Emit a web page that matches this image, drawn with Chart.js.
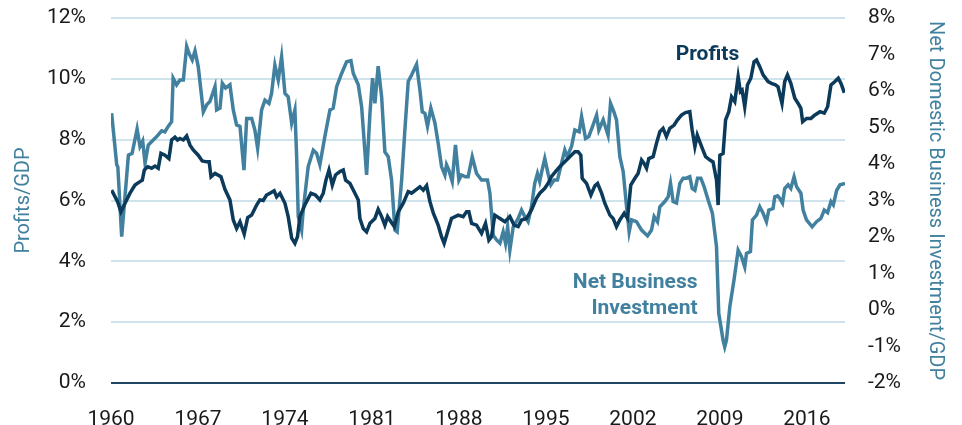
<!DOCTYPE html>
<html>
<head>
<meta charset="utf-8">
<script src="https://cdn.jsdelivr.net/npm/chart.js@4.4.1/dist/chart.umd.min.js"></script>
<style>
  html, body { margin: 0; padding: 0; background: #fff; }
</style>
</head>
<body>
<canvas id="chart" width="962" height="425"></canvas>
<script>
// quarterly-ish readings, year as decimal
const profitYears = [1960.05,1960.53,1960.8,1961.13,1961.53,1961.93,1962.33,1962.52,1962.68,1962.95,1963.27,1963.54,1963.8,1964.02,1964.34,1964.66,1964.88,1965.15,1965.35,1965.55,1965.82,1966.09,1966.36,1966.62,1967.02,1967.34,1967.7,1967.9,1968.05,1968.37,1968.85,1969.17,1969.57,1969.84,1970.11,1970.38,1970.72,1971.0,1971.32,1971.72,1971.98,1972.25,1972.52,1972.79,1973.13,1973.33,1973.6,1974.0,1974.26,1974.54,1974.8,1975.01,1975.2,1975.6,1976.09,1976.45,1976.81,1977.08,1977.3,1977.54,1977.81,1978.07,1978.42,1978.69,1978.88,1979.23,1979.63,1979.9,1980.03,1980.3,1980.57,1980.84,1981.24,1981.5,1981.78,1982.04,1982.26,1982.53,1982.8,1983.12,1983.52,1983.92,1984.19,1984.51,1984.86,1985.13,1985.4,1985.67,1985.94,1986.33,1986.6,1986.81,1987.13,1987.4,1987.94,1988.34,1988.61,1988.8,1989.02,1989.42,1989.82,1990.14,1990.41,1990.62,1990.89,1991.3,1991.7,1992.1,1992.44,1992.77,1993.04,1993.44,1993.84,1994.24,1994.51,1994.91,1995.17,1995.44,1995.77,1996.11,1996.52,1996.92,1997.33,1997.59,1997.81,1997.92,1998.27,1998.62,1998.94,1999.16,1999.48,1999.74,2000.15,2000.41,2000.68,2000.95,2001.3,2001.57,2001.83,2002.16,2002.42,2002.7,2002.9,2003.1,2003.28,2003.63,2003.9,2004.17,2004.43,2004.7,2004.97,2005.32,2005.59,2005.91,2006.23,2006.58,2006.77,2006.99,2007.18,2007.53,2007.85,2008.2,2008.45,2008.73,2008.86,2009.0,2009.26,2009.46,2009.72,2009.94,2010.2,2010.47,2010.65,2010.79,2011.0,2011.22,2011.49,2011.75,2011.95,2012.21,2012.48,2012.88,2013.15,2013.47,2013.68,2014.0,2014.22,2014.44,2014.71,2015.03,2015.3,2015.52,2015.66,2015.98,2016.33,2016.65,2017.06,2017.4,2017.67,2017.94,2018.26,2018.53,2018.75,2019.02];
const profitValues = [6.34,5.96,5.63,5.91,6.24,6.51,6.62,6.67,7.0,7.11,7.06,7.13,7.06,7.55,7.49,7.38,7.99,8.08,7.99,8.04,7.99,8.12,7.82,7.66,7.49,7.30,7.27,7.27,6.78,6.89,6.78,6.37,6.02,5.36,5.08,5.30,4.90,5.44,5.52,5.85,6.02,6.0,6.18,6.24,6.32,6.12,6.24,5.91,5.47,4.76,4.59,4.81,5.47,5.85,6.24,6.18,6.02,6.24,6.67,7.0,6.51,6.84,6.95,7.0,6.67,6.56,6.24,6.02,5.41,5.08,4.97,5.25,5.41,5.71,5.47,5.19,5.47,5.30,5.14,5.63,5.91,6.29,6.24,6.34,6.45,6.34,6.49,5.96,5.58,5.19,4.81,4.59,5.03,5.41,5.52,5.47,5.63,5.63,5.25,5.19,4.92,5.25,4.70,4.81,5.52,5.41,5.30,5.47,5.19,5.14,5.36,5.41,5.69,6.07,6.24,6.40,6.56,6.78,6.95,7.11,7.27,7.44,7.60,7.60,7.49,6.73,6.56,6.18,6.48,6.56,6.24,5.91,5.52,5.41,5.14,5.36,5.58,5.41,6.51,6.73,6.89,7.33,7.22,7.06,7.38,7.44,7.88,8.26,8.37,8.10,8.37,8.48,8.65,8.81,8.89,8.92,8.32,7.77,8.15,7.77,7.44,7.33,7.27,6.67,5.85,7.49,7.55,8.65,8.92,9.41,9.25,10.07,9.58,9.63,9.08,9.80,10.02,10.56,10.62,10.40,10.13,9.91,9.85,9.80,9.74,9.19,9.91,10.13,9.85,9.36,9.19,9.03,8.59,8.70,8.70,8.81,8.92,8.87,9.08,9.80,9.91,10.02,9.85,9.54];

const investYears = [1960.05,1960.46,1960.55,1960.86,1961.4,1961.7,1962.1,1962.33,1962.55,1962.74,1963.0,1963.4,1963.68,1964.08,1964.34,1964.6,1964.88,1965.0,1965.28,1965.55,1965.82,1966.09,1966.28,1966.54,1966.76,1967.02,1967.43,1967.7,1967.96,1968.37,1968.5,1968.77,1968.96,1969.22,1969.57,1969.84,1970.11,1970.38,1970.7,1970.92,1971.32,1971.58,1971.8,1972.12,1972.39,1972.71,1972.92,1973.19,1973.46,1973.73,1974.0,1974.26,1974.54,1974.8,1974.94,1975.07,1975.34,1975.47,1975.87,1976.28,1976.55,1976.81,1977.21,1977.62,1977.88,1978.16,1978.56,1978.96,1979.31,1979.5,1979.9,1980.17,1980.57,1980.84,1981.05,1981.24,1981.5,1981.78,1982.04,1982.31,1982.58,1982.85,1983.03,1983.39,1983.65,1983.92,1984.19,1984.59,1984.86,1985.05,1985.26,1985.47,1985.74,1986.07,1986.33,1986.6,1986.87,1987.0,1987.19,1987.46,1987.72,1988.0,1988.2,1988.53,1988.74,1989.07,1989.42,1989.82,1990.3,1990.49,1990.76,1991.03,1991.3,1991.56,1991.75,1991.92,1992.1,1992.37,1992.77,1993.04,1993.3,1993.57,1993.84,1994.1,1994.32,1994.5,1994.69,1994.91,1995.17,1995.4,1995.66,1995.93,1996.26,1996.52,1996.71,1997.06,1997.33,1997.68,1997.87,1998.19,1998.45,1998.8,1999.08,1999.26,1999.61,2000.0,2000.2,2000.47,2000.68,2000.95,2001.22,2001.49,2001.7,2001.89,2002.29,2002.7,2003.18,2003.5,2003.71,2003.98,2004.17,2004.57,2004.84,2005.03,2005.24,2005.51,2005.78,2006.04,2006.3,2006.58,2006.77,2006.99,2007.2,2007.47,2007.73,2008.05,2008.4,2008.73,2008.91,2009.26,2009.39,2009.53,2009.8,2010.14,2010.47,2010.74,2011.0,2011.14,2011.46,2011.62,2011.95,2012.21,2012.48,2012.75,2012.94,2013.28,2013.42,2013.64,2013.82,2014.04,2014.22,2014.49,2014.71,2014.97,2015.17,2015.52,2015.7,2015.97,2016.43,2016.78,2017.13,2017.4,2017.67,2017.94,2018.13,2018.4,2018.67,2019.07];
const investValues = [5.39,3.98,3.92,2.01,4.24,4.29,4.96,4.48,4.63,4.02,4.52,4.66,4.75,4.91,4.88,5.03,5.16,6.35,6.17,6.30,6.30,7.22,7.03,6.85,7.10,6.67,5.43,5.62,5.71,6.12,5.48,5.53,6.21,6.08,6.17,5.48,5.07,5.03,3.83,5.25,5.25,4.93,4.43,5.48,5.75,5.66,5.93,6.71,6.30,6.94,5.93,5.84,5.12,5.48,4.20,2.56,2.19,2.74,3.93,4.38,4.29,3.98,4.75,5.48,5.53,6.12,6.48,6.80,6.83,6.48,6.17,5.57,3.70,5.39,6.35,5.66,6.68,5.84,4.33,4.20,3.56,2.19,2.14,3.56,4.93,6.26,6.44,6.73,6.03,5.43,5.39,5.03,5.53,5.12,4.57,3.93,3.70,3.98,3.83,3.52,4.52,3.56,3.70,3.65,3.65,4.20,3.74,3.56,3.56,3.20,2.05,1.92,1.83,2.14,1.83,2.28,1.64,2.28,2.51,2.74,2.56,2.42,2.83,3.47,3.74,3.52,3.83,4.15,3.74,3.43,3.56,3.56,4.02,4.38,4.20,4.48,4.93,4.88,5.30,4.70,4.75,5.07,5.34,4.93,5.21,4.79,5.66,5.43,5.21,4.20,3.79,2.83,2.14,2.47,2.42,2.19,2.03,2.19,2.56,2.42,2.83,2.97,3.10,3.47,2.97,2.93,3.47,3.61,3.61,3.65,3.33,3.28,3.61,3.61,3.38,3.02,2.65,1.73,-0.09,-0.83,-1.01,-0.83,0.09,0.83,1.64,1.46,1.18,1.55,1.60,2.47,2.60,2.83,2.65,2.42,2.74,2.78,3.10,3.13,3.06,2.93,3.33,3.43,3.33,3.65,3.38,3.20,2.74,2.47,2.28,2.42,2.51,2.74,2.67,2.97,2.88,3.28,3.43,3.47];

const yearTicks = [1960, 1967, 1974, 1981, 1988, 1995, 2002, 2009, 2016];

const NAVY = "#0b3a5a";
const TEAL = "#41809e";

const labelsPlugin = {
  id: "seriesLabels",
  afterDatasetsDraw(chart) {
    const { ctx, scales } = chart;
    const x = scales.x, yl = scales.yLeft;
    ctx.save();
    ctx.font = "bold 21px Roboto";
    ctx.textBaseline = "middle";
    ctx.fillStyle = NAVY;
    ctx.textAlign = "center";
    ctx.fillText("Profits", x.getPixelForValue(2008.0), yl.getPixelForValue(10.8));
    ctx.fillStyle = TEAL;
    ctx.textAlign = "right";
    ctx.fillText("Net Business", x.getPixelForValue(2007.2), yl.getPixelForValue(3.3));
    ctx.fillText("Investment", x.getPixelForValue(2007.2), yl.getPixelForValue(2.45));
    ctx.restore();
  }
};

// fixed box sizes so the plot area matches the picture
const fixY = w => s => { s.width = w; s.paddingTop = 0; s.paddingBottom = 0; };

new Chart(document.getElementById("chart").getContext("2d"), {
  type: "line",
  data: {
    datasets: [
      {
        label: "Profits",
        data: profitYears.map((y, i) => ({ x: y, y: profitValues[i] })),
        borderColor: NAVY,
        borderWidth: 3.5,
        pointRadius: 0,
        yAxisID: "yLeft"
      },
      {
        label: "Net Business Investment",
        data: investYears.map((y, i) => ({ x: y, y: investValues[i] })),
        borderColor: TEAL,
        borderWidth: 3.5,
        pointRadius: 0,
        yAxisID: "yRight"
      }
    ]
  },
  options: {
    responsive: false,
    animation: false,
    devicePixelRatio: 1,
    layout: { padding: { top: 18, left: 0, right: 0, bottom: 0 } },
    plugins: { legend: { display: false }, tooltip: { enabled: false } },
    scales: {
      x: {
        type: "linear",
        min: 1960,
        max: 2019.07,
        afterBuildTicks: s => { s.ticks = yearTicks.map(v => ({ value: v })); },
        afterFit: s => { s.height = 42; s.paddingLeft = 0; s.paddingRight = 0; },
        grid: { display: false },
        border: { display: false },
        ticks: { padding: 16, color: "#1a1a1a", font: { family: "Roboto", size: 21 }, maxRotation: 0, autoSkip: false, callback: v => String(v) }
      },
      yLeft: {
        position: "left",
        min: 0,
        max: 12,
        afterFit: fixY(111),
        border: { display: false },
        grid: {
          drawTicks: false,
          lineWidth: 2,
          color: c => c.tick && c.tick.value === 0 ? "#1f4563" : "#cfe3ed"
        },
        ticks: { stepSize: 2, padding: 25, color: "#1a1a1a", font: { family: "Roboto", size: 21 }, callback: v => v + "%" },
        title: { display: true, text: "Profits/GDP", color: TEAL, padding: 12, font: { family: "Roboto", size: 20 } }
      },
      yRight: {
        position: "right",
        min: -2,
        max: 8,
        afterFit: fixY(117),
        border: { display: false },
        grid: { drawOnChartArea: false, drawTicks: false },
        ticks: { stepSize: 1, padding: 23, color: "#1a1a1a", font: { family: "Roboto", size: 21 }, callback: v => v + "%" },
        title: { display: true, text: "Net Domestic Business Investment/GDP", color: TEAL, padding: 15, font: { family: "Roboto", size: 20 } }
      }
    }
  },
  plugins: [labelsPlugin]
});
</script>
</body>
</html>
